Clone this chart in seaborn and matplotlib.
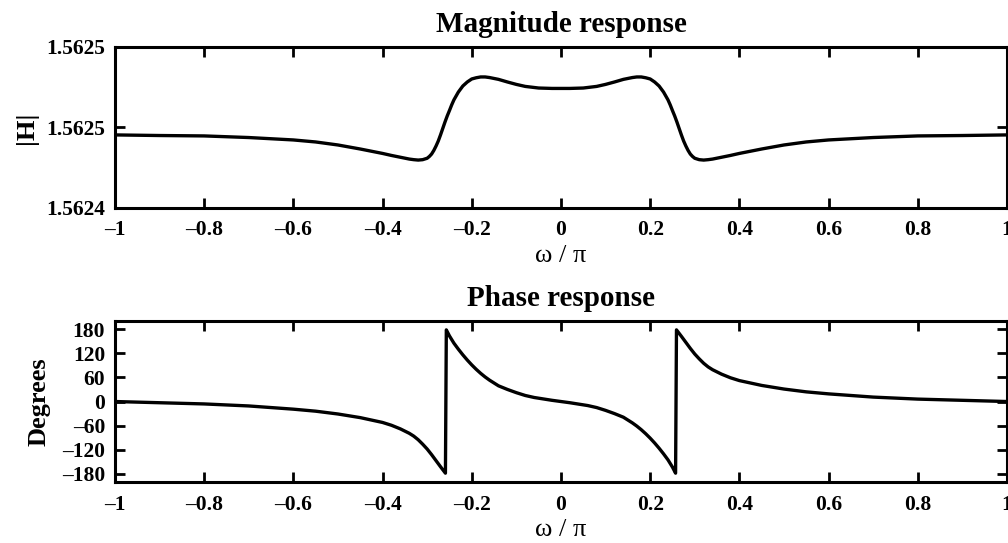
import matplotlib
matplotlib.use("Agg")
import matplotlib.pyplot as plt
import seaborn as sns
import pandas as pd
import numpy

# frequency axis (omega / pi) and magnitude |H|
mag_w = [-1.0, -0.9, -0.8, -0.7, -0.6, -0.55, -0.5, -0.45, -0.4, -0.38,
         -0.36, -0.34, -0.33, -0.32, -0.31, -0.30, -0.295, -0.29, -0.285,
         -0.28, -0.275, -0.27, -0.265, -0.26, -0.255, -0.25, -0.245, -0.24,
         -0.23, -0.22, -0.21, -0.20, -0.19, -0.18, -0.17, -0.16, -0.14,
         -0.12, -0.10, -0.08, -0.05, -0.02, 0.0,
         0.02, 0.05, 0.08, 0.10, 0.12, 0.14, 0.16, 0.17, 0.18, 0.19,
         0.20, 0.21, 0.22, 0.23, 0.24, 0.245, 0.25, 0.255, 0.26, 0.265,
         0.27, 0.275, 0.28, 0.285, 0.29, 0.295, 0.30, 0.31, 0.32, 0.33,
         0.34, 0.36, 0.38, 0.4, 0.45, 0.5, 0.55, 0.6, 0.7, 0.8, 0.9, 1.0]
mag_h = [1.5624763, 1.5624760, 1.5624758, 1.5624750, 1.5624738, 1.5624728,
         1.5624713, 1.5624693, 1.5624671, 1.5624661, 1.5624652, 1.5624643,
         1.5624640, 1.5624638, 1.5624640, 1.5624647, 1.5624656, 1.5624668,
         1.5624686, 1.5624708, 1.5624733, 1.5624763, 1.5624795, 1.5624827,
         1.5624857, 1.5624884, 1.5624912, 1.5624937, 1.5624976, 1.5625006,
         1.5625026, 1.5625041, 1.5625047, 1.5625051, 1.5625051, 1.5625048,
         1.5625039, 1.5625026, 1.5625014, 1.5625004, 1.5624996, 1.5624994,
         1.5624994,
         1.5624994, 1.5624996, 1.5625004, 1.5625014, 1.5625026, 1.5625039,
         1.5625048, 1.5625051, 1.5625051, 1.5625047, 1.5625041, 1.5625026,
         1.5625006, 1.5624976, 1.5624937, 1.5624912, 1.5624884, 1.5624857,
         1.5624827, 1.5624795, 1.5624763, 1.5624733, 1.5624708, 1.5624686,
         1.5624668, 1.5624656, 1.5624647, 1.5624640, 1.5624638, 1.5624640,
         1.5624643, 1.5624652, 1.5624661, 1.5624671, 1.5624693, 1.5624713,
         1.5624728, 1.5624738, 1.5624750, 1.5624758, 1.5624760, 1.5624763]

# phase in degrees (wraps at +-180)
ph_w = [-1.0, -0.9, -0.8, -0.7, -0.6, -0.55, -0.5, -0.45, -0.4, -0.38,
        -0.36, -0.34, -0.33, -0.32, -0.31, -0.30, -0.29, -0.28, -0.27,
        -0.259, -0.257, -0.25, -0.24, -0.23, -0.22, -0.21, -0.20, -0.19,
        -0.18, -0.17, -0.16, -0.14, -0.12, -0.10, -0.08, -0.06, -0.04,
        -0.02, 0.0,
        0.02, 0.04, 0.06, 0.08, 0.10, 0.12, 0.14, 0.16, 0.17, 0.18, 0.19,
        0.20, 0.21, 0.22, 0.23, 0.24, 0.25, 0.257, 0.259, 0.27, 0.28, 0.29,
        0.30, 0.31, 0.32, 0.33, 0.34, 0.36, 0.38, 0.4, 0.45, 0.5, 0.55,
        0.6, 0.7, 0.8, 0.9, 1.0]
ph_deg = [0, -3, -6, -11, -19, -24, -31, -40, -52, -59,
          -68, -79, -86, -95, -106, -118, -132, -147, -162,
          -178, 178, 163, 145, 130, 116, 103, 91, 80,
          70, 61, 53, 39, 30, 22, 15, 10, 6.5,
          3, 0,
          -3, -6.5, -10, -15, -22, -30, -39, -53, -61, -70, -80,
          -91, -103, -116, -130, -145, -163, -178, 178, 162, 147, 132,
          118, 106, 95, 86, 79, 68, 59, 52, 40, 31, 24,
          19, 11, 6, 3, 0]

mag_ticks = [1.56244, 1.56248, 1.56252]
ph_ticks = [-180, -120, -60, 0, 60, 120, 180]
w_ticks = [-1, -0.8, -0.6, -0.4, -0.2, 0, 0.2, 0.4, 0.6, 0.8, 1]


def fmt(v):
    s = "%g" % v
    return s.replace("-", "\u2013")


sns.set_style("ticks")
plt.rcParams['font.family'] = ['Liberation Serif', 'DejaVu Serif']
plt.rcParams['font.weight'] = 'bold'
plt.rcParams.update({'axes.edgecolor': 'k', 'xtick.color': 'k',
                     'ytick.color': 'k', 'text.color': 'k',
                     'axes.labelcolor': 'k'})

fig = plt.figure(figsize=(10.08, 5.43), dpi=100)
ax1 = fig.add_axes([0.114, 0.617, 0.885, 0.2965])
ax2 = fig.add_axes([0.114, 0.1123, 0.885, 0.2965])

df_mag = pd.DataFrame({"w": mag_w, "h": mag_h})
df_ph = pd.DataFrame({"w": ph_w, "deg": ph_deg})

sns.lineplot(data=df_mag, x="w", y="h", ax=ax1, color="k", lw=2.4,
             sort=False, estimator=None)
sns.lineplot(data=df_ph, x="w", y="deg", ax=ax2, color="k", lw=2.4,
             sort=False, estimator=None)

ax1.set_ylim(1.56244, 1.56252)
ax1.set_yticks(mag_ticks)
ax1.set_yticklabels(["%.4f" % v for v in mag_ticks])
ax2.set_ylim(-200, 200)
ax2.set_yticks(ph_ticks)
ax2.set_yticklabels([fmt(v) for v in ph_ticks])

for ax in (ax1, ax2):
    ax.set_xlim(-1, 1)
    ax.set_xticks(w_ticks)
    ax.set_xticklabels([fmt(v) for v in w_ticks])
    ax.tick_params(direction="in", length=7, width=2, top=True, right=True,
                   labelsize=15.5)
    ax.tick_params(axis="x", pad=9)
    ax.tick_params(axis="y", pad=7)
    for sp in ax.spines.values():
        sp.set_visible(True)
        sp.set_linewidth(2.2)
    ax.set_xlabel("ω / π", fontsize=19, fontweight="normal", labelpad=3)

ax1.set_title("Magnitude response", fontsize=21, fontweight="bold", pad=11)
ax2.set_title("Phase response", fontsize=21, fontweight="bold", pad=11)
ax1.set_ylabel("|H|", fontsize=19, fontweight="bold", labelpad=6)
ax2.set_ylabel("Degrees", fontsize=19, fontweight="bold", labelpad=8)

fig.savefig("out.png", dpi=100)
